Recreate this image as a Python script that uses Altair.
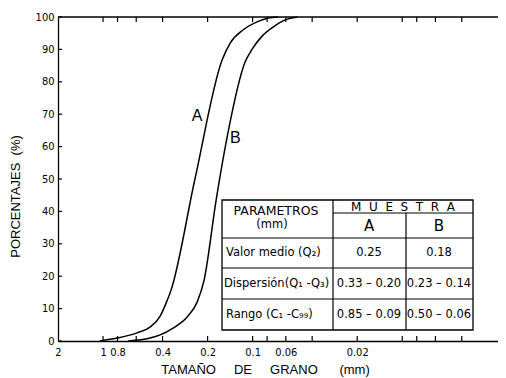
import altair as alt
import pandas as pd

# ---- data ----
# Curve A: grain size (mm) vs cumulative percentage
a_size = [1.05, 0.806, 0.592, 0.485, 0.415, 0.379, 0.351, 0.243, 0.160, 0.141, 0.116, 0.0934, 0.0787, 0.0675]
a_pct = [0, 0.9, 2.5, 4.3, 7.7, 11.7, 15.7, 50.0, 86.7, 92.0, 96.0, 98.5, 99.7, 100]
# Curve B
b_size = [0.680, 0.485, 0.415, 0.340, 0.274, 0.235, 0.211, 0.1754, 0.148, 0.1123, 0.101, 0.0864, 0.0729, 0.0606, 0.0503]
b_pct = [0, 0.9, 1.9, 4.0, 7.4, 12.0, 18.8, 43.5, 63.0, 86.1, 90.0, 94.1, 96.9, 99.1, 100]

x_labels = [2, 1, 0.8, 0.4, 0.2, 0.1, 0.06, 0.02]
x_ticks = [1, 0.8, 0.6, 0.4, 0.2, 0.1, 0.08, 0.06, 0.04, 0.02, 0.01, 0.008, 0.006, 0.004]
y_ticks = [0, 10, 20, 30, 40, 50, 60, 70, 80, 90, 100]
x_min, x_max = 0.00229, 2

curve_names = ["A", "B"]
curve_label_size = [0.235, 0.1306]
curve_label_pct = [69.4, 62.8]

# table content
head_param = ["PARAMETROS", "(mm)"]
head_muestra = "M\u00a0\u00a0U\u00a0\u00a0E\u00a0\u00a0S\u00a0\u00a0T\u00a0\u00a0R\u00a0\u00a0A"
row_names = ["Valor medio (Q\u2082)", "Dispersi\u00f3n(Q\u2081 -Q\u2083)", "Rango (C\u2081 -C\u2089\u2089)"]
col_a = ["0.25", "0.33 \u2013 0.20", "0.85 \u2013 0.09"]
col_b = ["0.18", "0.23 \u2013 0.14", "0.50 \u2013 0.06"]

# ---- layout (pixels, relative to plot area) ----
W, H = 440, 324
TL, TR, TT, TB = 164, 415, 183, 313      # table box
C1, C2 = 275, 348                         # column separators
YM, YH, Y1, Y2 = 196, 221, 251, 282       # horizontal lines
row_y = [236, 267, 298]
ca, cb = 311, 381

FONT = "DejaVu Sans"
NARROW = "Liberation Sans Narrow, DejaVu Sans Condensed, Liberation Sans, sans-serif"

curves = pd.DataFrame({
    "size": a_size + b_size,
    "pct": a_pct + b_pct,
    "muestra": ["A"] * len(a_size) + ["B"] * len(b_size),
})

xscale = alt.Scale(type="log", domain=[x_min, x_max], reverse=True, nice=False)
yscale = alt.Scale(domain=[0, 100], nice=False)

x_axis = alt.Axis(values=x_labels, format="~g", ticks=False, domain=True, domainColor="black",
                  domainWidth=1.3, grid=False, labelOverlap=False,
                  labelPadding=5, labelFlush=False, labelFont=NARROW, labelFontSize=11,
                  labelColor="black",
                  title="TAMA\u00d1O\u00a0\u00a0\u00a0\u00a0\u00a0DE\u00a0\u00a0\u00a0\u00a0\u00a0GRANO\u00a0\u00a0\u00a0\u00a0\u00a0\u00a0(mm)",
                  titleFont="Liberation Sans", titleFontSize=13, titleFontWeight="normal",
                  titleColor="black", titleX=207, titleY=28, titleBaseline="middle",
                  titleAlign="center", titleAnchor="start")
y_axis = alt.Axis(values=y_ticks, ticks=False, domain=True, domainColor="black",
                  domainWidth=1.3, grid=False, labelOverlap=False,
                  labelPadding=4, labelFlush=False, labelFont=NARROW, labelFontSize=11,
                  labelColor="black", labelBaseline="middle",
                  title="PORCENTAJES\u00a0\u00a0(%)", titleFont="Liberation Sans",
                  titleFontSize=13, titleFontWeight="normal", titleColor="black",
                  titleX=-43, titleY=179, titleAngle=-90, titleBaseline="middle",
                  titleAlign="center", titleAnchor="start")


def X(field="size:Q"):
    return alt.X(field, scale=xscale, axis=x_axis)


def Y(field="pct:Q"):
    return alt.Y(field, scale=yscale, axis=y_axis)


lines = alt.Chart(curves).mark_line(color="black", strokeWidth=1.5, interpolate="monotone").encode(
    x=X(), y=Y(), detail="muestra:N")

labels = alt.Chart(pd.DataFrame({"size": curve_label_size, "pct": curve_label_pct, "t": curve_names})).mark_text(
    font="Liberation Sans", fontSize=16, color="black", align="center", baseline="middle").encode(
    x=X(), y=Y(), text="t:N")

top_line = alt.Chart(pd.DataFrame({"pct": [100]})).mark_rule(color="black", strokeWidth=1.3).encode(
    y=Y(), x=alt.value(0), x2=alt.value(W))

tdf = pd.DataFrame({"size": x_ticks})
top_ticks = alt.Chart(tdf).mark_rule(color="black", strokeWidth=1.2).encode(
    x=X(), y=alt.value(0), y2=alt.value(5))
bot_ticks = alt.Chart(tdf).mark_rule(color="black", strokeWidth=1.2).encode(
    x=X(), y=alt.value(H - 5), y2=alt.value(H))
ytk = alt.Chart(pd.DataFrame({"pct": y_ticks})).mark_rule(color="black", strokeWidth=1.2).encode(
    y=Y(), x=alt.value(0), x2=alt.value(4))

box = alt.Chart(pd.DataFrame({"x": [TL], "x2": [TR], "y": [TT], "y2": [TB]})).mark_rect(
    fill="white", stroke="black", strokeWidth=1.3).encode(
    x=alt.X("x:Q", scale=None, axis=None), x2="x2:Q",
    y=alt.Y("y:Q", scale=None, axis=None), y2="y2:Q")

rules_df = pd.DataFrame({
    "x": [C1, TL, TL, TL, C1, C2],
    "x2": [TR, TR, TR, TR, C1, C2],
    "y": [YM, YH, Y1, Y2, TT, YM],
    "y2": [YM, YH, Y1, Y2, TB, TB],
})
rules = alt.Chart(rules_df).mark_rule(color="black", strokeWidth=1.2).encode(
    x=alt.X("x:Q", scale=None, axis=None), x2="x2:Q",
    y=alt.Y("y:Q", scale=None, axis=None), y2="y2:Q")

center_txt = pd.DataFrame({
    "t": [head_param[0], head_param[1], head_muestra, "A", "B"] + col_a + col_b,
    "x": [218, 214, 345, ca, cb] + [ca] * 3 + [cb] * 3,
    "y": [194, 208, 190, 209, 209] + row_y + row_y,
    "fs": [12.5, 11.5, 12, 15, 15] + [11.5] * 6,
})
ctext = alt.Chart(center_txt).mark_text(font=FONT, color="black", align="center", baseline="middle").encode(
    x=alt.X("x:Q", scale=None, axis=None), y=alt.Y("y:Q", scale=None, axis=None),
    text="t:N", size=alt.Size("fs:Q", scale=None, legend=None))

left_txt = pd.DataFrame({"t": row_names, "x": [168, 166, 168], "y": row_y})
ltext = alt.Chart(left_txt).mark_text(font=FONT, fontSize=11.5, color="black", align="left", baseline="middle").encode(
    x=alt.X("x:Q", scale=None, axis=None), y=alt.Y("y:Q", scale=None, axis=None), text="t:N")

chart = alt.layer(lines, labels, top_line, top_ticks, bot_ticks, ytk, box, rules, ctext, ltext).properties(
    width=W, height=H,
    autosize=alt.AutoSizeParams(type="none"),
    padding={"left": 50, "top": 9, "right": 0, "bottom": 37},
    background="white",
).configure_view(stroke=None)

chart.save("out.html", embed_options={"renderer": "svg", "actions": False})
